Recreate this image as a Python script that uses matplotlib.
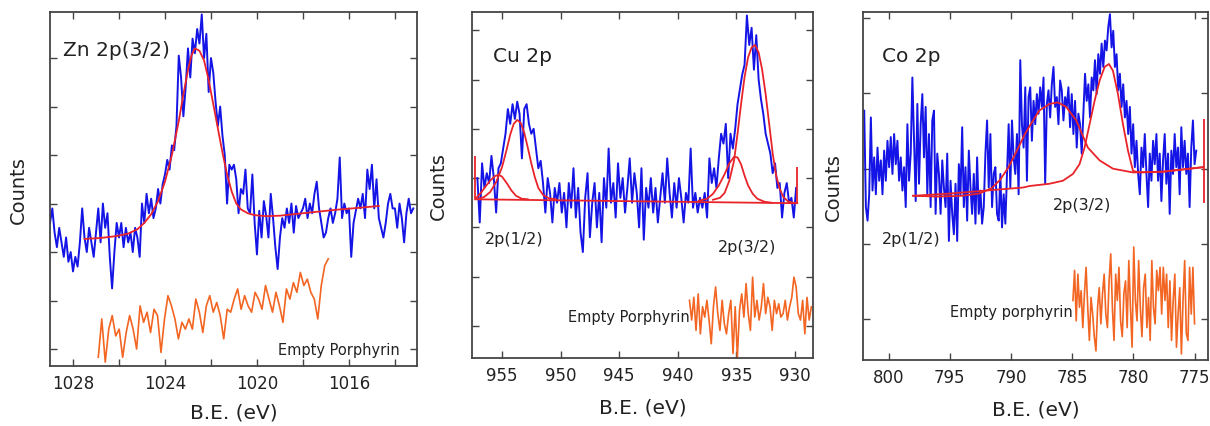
import numpy as np
import matplotlib
matplotlib.use('Agg')
import matplotlib.pyplot as plt
from matplotlib.ticker import MultipleLocator

BLUE = '#1414e6'
RED = '#e8242a'
ORANGE = '#f26522'
EDGE = '#444444'

# ---------------- Zn 2p(3/2) ----------------
zn_range = (1029.0, 1013.2)
zn_counts = [
    2.6, 2.9, 2.4, 2.1, 2.5, 2.2, 1.9, 2.3, 1.8, 2.0,
    1.6, 1.9, 1.7, 2.2, 2.9, 2.3, 2.0, 2.5, 2.2, 1.9,
    2.4, 2.9, 2.2, 3.0, 2.5, 2.8, 1.9, 1.25, 2.0, 2.6,
    2.3, 2.6, 2.1, 2.5, 2.2, 2.4, 2.0, 2.5, 2.3, 1.9,
    3.0, 2.6, 3.2, 2.8, 3.1, 2.7, 2.9, 3.3, 3.0, 3.4,
    3.6, 3.9, 3.7, 4.2, 4.1, 4.6, 6.05, 5.6, 4.8, 5.4,
    6.2, 5.6, 6.4, 6.1, 6.6, 6.3, 6.9, 6.0, 6.5, 5.3,
    6.0, 5.7, 5.1, 4.6, 5.0, 4.4, 4.0, 3.0, 3.8, 3.7,
    3.8, 3.5, 2.8, 3.3, 3.2, 3.7, 2.9, 2.8, 3.6, 2.6,
    1.95, 2.85, 2.3, 3.05, 2.75, 2.3, 3.2, 2.7, 2.1, 1.65,
    2.3, 2.7, 2.5, 2.9, 2.6, 3.0, 2.4, 2.95, 2.7, 2.8,
    2.9, 3.1, 2.7, 3.0, 2.8, 3.2, 3.45, 2.9, 2.6, 2.3,
    2.4, 2.7, 2.9, 2.6, 2.8, 3.1, 3.95, 2.7, 3.0, 2.8,
    2.9, 1.9, 2.6, 2.85, 3.1, 2.9, 3.2, 2.7, 3.7, 3.3,
    3.8, 2.9, 3.5, 2.7, 2.5, 2.3, 2.6, 3.0, 3.2, 2.9,
    2.9, 2.5, 3.0, 2.7, 2.2, 2.8, 3.1, 2.8, 2.9,
]
zn_fit_be = [1027.5, 1026.8, 1026.1, 1025.6, 1025.2, 1024.9, 1024.6, 1024.3,
             1024.0, 1023.7, 1023.4, 1023.2, 1023.0, 1022.85, 1022.7, 1022.5,
             1022.3, 1022.1, 1021.9, 1021.7, 1021.5, 1021.3, 1021.1, 1020.9,
             1020.7, 1020.4, 1020.1, 1019.6, 1019.0, 1018.2, 1017.4, 1016.6,
             1015.6, 1014.7]
zn_fit = [2.27, 2.29, 2.33, 2.38, 2.47, 2.6, 2.78, 3.05,
          3.45, 4.0, 4.7, 5.25, 5.75, 6.05, 6.2, 6.15,
          5.95, 5.55, 5.05, 4.55, 4.05, 3.6, 3.25, 3.0,
          2.88, 2.8, 2.76, 2.74, 2.75, 2.79, 2.83, 2.87,
          2.91, 2.95]
zn_empty_range = (1026.9, 1016.9)
zn_empty = [
    -0.17, 0.62, -0.27, 0.41, 0.69, 0.27, 0.41, -0.17, 0.34, 0.69,
    0.41, 0.0, 0.89, 0.55, 0.76, 0.34, 0.82, 0.69, -0.07, 0.62,
    1.1, 0.89, 0.62, 0.21, 0.55, 0.41, 0.62, 0.41, 1.03, 0.76,
    0.34, 0.89, 1.1, 0.76, 0.96, 0.69, 0.21, 0.82, 0.76, 1.03,
    1.24, 0.82, 1.1, 0.89, 0.76, 1.17, 1.03, 0.82, 1.31, 1.03,
    0.76, 1.17, 0.89, 0.55, 1.24, 1.03, 1.37, 1.17, 1.58, 1.31,
    1.44, 1.17, 1.03, 0.62, 1.31, 1.72, 1.86,
]

# ---------------- Cu 2p ----------------
cu_range = (957.1, 929.9)
cu_counts = [
    3.0, 2.1, 3.3, 2.8, 3.1, 2.9, 3.45, 3.0, 2.3, 3.2,
    3.3, 3.6, 3.9, 4.4, 4.1, 4.5, 4.2, 4.55, 4.3, 3.4,
    4.4, 4.5, 4.1, 3.9, 4.0, 3.6, 3.2, 3.35, 2.9, 2.3,
    3.0, 2.7, 2.1, 2.8, 2.5, 2.9, 2.3, 2.7, 2.0, 2.9,
    2.4, 3.2, 2.2, 2.8, 1.9, 1.5, 2.6, 3.1, 1.8, 2.5,
    2.9, 2.0, 2.7, 1.7, 3.0, 2.4, 3.6, 2.5, 2.9, 2.2,
    3.3, 2.6, 3.0, 2.3, 2.8, 3.4, 2.5, 3.1, 2.7, 2.0,
    3.2, 1.75, 2.8, 2.4, 3.0, 2.3, 2.8, 2.1, 2.6, 3.1,
    2.5, 3.4, 2.7, 2.2, 2.9, 2.4, 3.0, 2.6, 2.1, 2.7,
    2.5, 3.6, 2.4, 2.7, 2.3, 2.6, 2.4, 2.7, 2.2, 3.4,
    2.9, 3.2, 2.8, 3.4, 3.9, 3.7, 4.1, 3.0, 3.9, 3.6,
    4.0, 4.5, 4.8, 5.1, 5.3, 6.3, 5.7, 6.05, 5.2, 5.9,
    5.0, 4.6, 4.3, 3.9, 3.7, 3.5, 3.1, 3.3, 2.8, 2.9,
    2.2, 2.7, 2.9, 2.5, 2.6, 2.2, 2.8,
]
cu_base_be = [957.3, 929.8]
cu_base = [2.57, 2.49]
cu_a_be = [957.2, 956.8, 956.4, 956.0, 955.6, 955.3, 955.0, 954.6, 954.2, 953.8, 953.3, 952.8]
cu_a = [2.6, 2.7, 2.83, 2.95, 3.04, 3.07, 3.03, 2.9, 2.75, 2.64, 2.58, 2.57]
cu_b_be = [957.0, 956.5, 956.0, 955.5, 955.0, 954.6, 954.3, 954.0, 953.7, 953.4,
           953.1, 952.8, 952.5, 952.2, 951.9, 951.5, 951.0, 950.4]
cu_b = [2.58, 2.62, 2.72, 2.92, 3.22, 3.58, 3.88, 4.1, 4.18, 4.12,
        3.92, 3.62, 3.3, 3.02, 2.8, 2.66, 2.59, 2.57]
cu_c_be = [938.2, 937.5, 937.0, 936.5, 936.0, 935.6, 935.2, 934.9, 934.6, 934.3,
           934.0, 933.6, 933.2, 932.6, 932.0]
cu_c = [2.54, 2.58, 2.68, 2.85, 3.08, 3.3, 3.43, 3.42, 3.28, 3.05,
        2.85, 2.68, 2.58, 2.52, 2.5]
cu_d_be = [937.0, 936.4, 936.0, 935.6, 935.2, 934.9, 934.6, 934.3, 934.0, 933.7,
           933.4, 933.1, 932.8, 932.5, 932.2, 931.9, 931.6, 931.3, 931.0, 930.6, 930.0]
cu_d = [2.56, 2.6, 2.7, 2.95, 3.35, 3.9, 4.5, 5.05, 5.45, 5.65,
        5.7, 5.55, 5.2, 4.7, 4.1, 3.5, 3.05, 2.78, 2.62, 2.53, 2.49]
cu_edge_be = [957.3, 929.8]
cu_edge_lo = [2.57, 2.49]
cu_edge_hi = [3.45, 3.22]
cu_empty_range = (939.0, 928.6)
cu_empty = [
    0.52, 0.12, 0.58, -0.09, 0.65, -0.16, 0.39, 0.18, 0.52, 0.12,
    -0.36, 0.39, 0.79, 0.25, -0.09, 0.52, 0.05, -0.16, 0.25, 0.52,
    -0.56, 0.39, -0.63, 0.32, 0.65, 0.18, 0.86, 0.25, -0.09, 0.99,
    0.18, 0.52, 0.12, 0.39, 0.86, 0.25, 0.58, 0.39, -0.09, 0.52,
    0.25, 0.45, 0.18, 0.25, 0.52, 0.12, 0.39, 0.58, 0.99, 0.79,
    0.25, 0.12, 0.52, -0.16, 0.58, 0.12, 0.39,
]

# ---------------- Co 2p ----------------
co_range = (802.0, 774.86)
co_counts = [
    2.77, 1.49, 1.31, 1.66, 2.68, 1.71, 2.15, 1.66, 2.28, 1.84,
    2.11, 1.66, 2.24, 1.84, 2.37, 2.02, 2.42, 1.93, 2.46, 2.06,
    2.37, 1.84, 2.15, 1.71, 2.02, 1.49, 2.59, 1.84, 2.20, 3.21,
    2.37, 1.57, 2.86, 1.80, 2.59, 2.99, 2.15, 2.82, 1.66, 2.46,
    1.49, 2.64, 2.77, 1.40, 2.20, 1.93, 1.40, 2.11, 1.75, 1.49,
    2.20, 1.04, 1.84, 1.40, 1.13, 1.80, 1.04, 2.06, 1.66, 2.55,
    1.49, 2.02, 1.31, 2.24, 1.75, 1.40, 1.93, 1.27, 2.15, 1.40,
    1.71, 1.27, 1.49, 2.20, 2.64, 1.75, 2.46, 1.49, 1.93, 2.02,
    1.40, 1.31, 1.93, 1.22, 1.66, 1.27, 1.93, 2.59, 1.75, 2.64,
    2.15, 1.93, 2.46, 1.66, 3.44, 2.59, 2.28, 3.08, 1.84, 2.95,
    3.08, 2.37, 2.90, 2.59, 2.99, 2.73, 3.08, 2.82, 3.21, 1.80,
    2.86, 3.04, 2.68, 3.12, 3.35, 2.82, 2.95, 2.59, 3.17, 3.04,
    2.64, 2.95, 2.82, 3.08, 2.55, 2.99, 2.46, 2.90, 2.28, 2.73,
    2.59, 2.20, 2.73, 3.26, 2.90, 3.12, 2.68, 3.21, 3.04, 3.44,
    2.99, 3.52, 3.26, 3.66, 3.35, 3.70, 3.57, 3.88, 4.05, 3.61,
    3.83, 3.35, 3.52, 3.04, 3.26, 2.82, 3.12, 2.68, 2.90, 2.46,
    2.82, 2.20, 2.59, 2.02, 2.37, 1.93, 1.66, 2.28, 2.02, 2.46,
    1.93, 1.49, 2.20, 1.84, 2.37, 2.06, 2.46, 1.84, 2.20, 1.57,
    2.11, 2.46, 1.80, 2.20, 1.40, 2.24, 1.93, 2.46, 2.02, 2.28,
    1.66, 2.55, 2.02, 2.37, 1.93, 2.20, 1.49, 2.28, 2.64, 2.06,
    2.24,
]
co_p12_be = [798.0, 796.0, 794.0, 792.6, 791.6, 790.9, 790.2, 789.4, 788.9, 788.5,
             787.7, 786.85, 786.17, 785.49, 784.67, 783.72, 782.76, 781.67, 780.03,
             777.58, 774.3]
co_p12 = [1.64, 1.63, 1.64, 1.67, 1.74, 1.85, 2.02, 2.28, 2.45, 2.56,
          2.77, 2.86, 2.88, 2.82, 2.64, 2.28, 2.11, 2.0, 1.95,
          1.96, 2.02]
co_p32_be = [798.0, 795.0, 792.0, 789.0, 788.48, 786.85, 785.76, 784.94, 784.4, 783.99,
             783.58, 783.17, 782.76, 782.35, 782.0, 781.67, 781.26, 780.85, 780.44,
             780.03, 779.49, 777.58, 774.3]
co_p32 = [1.64, 1.67, 1.71, 1.75, 1.77, 1.80, 1.84, 1.93, 2.06, 2.28,
          2.59, 2.90, 3.17, 3.35, 3.39, 3.30, 2.99, 2.59, 2.24,
          1.97, 1.95, 1.96, 2.02]
co_edge_be = [774.25]
co_edge_lo = [1.54]
co_edge_hi = [2.66]
co_empty_range = (784.94, 775.0)
co_empty = [
    0.25, 0.65, -0.02, 0.60, 0.16, 0.38, -0.11, 0.34, 0.69, 0.16,
    -0.28, 0.29, 0.07, -0.23, -0.42, 0.16, 0.42, -0.06, 0.34, 0.60,
    0.07, -0.11, 0.51, 0.87, 0.16, -0.28, 0.60, 0.25, 0.69, -0.02,
    -0.23, 0.34, 0.51, -0.11, 0.78, 0.16, -0.37, 0.96, 0.25, -0.02,
    0.78, 0.16, -0.23, 0.42, 0.60, -0.11, 0.29, -0.28, 0.78, 0.16,
    -0.06, 0.65, 0.38, 0.69, 0.07, 0.69, 0.25, 0.60, -0.11, 0.51,
    -0.28, 0.25, 0.60, -0.37, 0.07, 0.42, -0.46, 0.25, 0.78, -0.19,
    -0.28, 0.69, 0.07, 0.69, -0.06,
]


def grid(rng, vals):
    return np.linspace(rng[0], rng[1], len(vals))


def style_axes(ax, xlim, ylim, nyt, xlabel_y, ylabel_x):
    ax.set_xlim(*xlim)
    ax.set_ylim(*ylim)
    ax.set_yticks(range(nyt))
    ax.tick_params(direction='in', top=True, right=True, length=5, width=1,
                   color=EDGE, labelsize=12, pad=6, labelleft=False,
                   labelcolor='#222222')
    ax.tick_params(which='minor', direction='in', top=True, right=True,
                   length=5, width=1, color=EDGE)
    for s in ax.spines.values():
        s.set_color(EDGE)
        s.set_linewidth(1.3)
    ax.set_xlabel('B.E. (eV)', fontsize=14.5, color='#222222')
    ax.set_ylabel('Counts', fontsize=14, color='#222222')
    ax.xaxis.set_label_coords(0.5, xlabel_y)
    ax.xaxis.label.set_va('center')
    ax.yaxis.set_label_coords(ylabel_x, 0.5)
    ax.yaxis.label.set_va('center')


fig = plt.figure(figsize=(12.1, 4.27), dpi=100)

# Zn
ax1 = fig.add_axes([50/1210, 60/427, 367/1210, 354/427])
ax1.plot(grid(zn_range, zn_counts), zn_counts, color=BLUE, lw=1.4)
ax1.plot(zn_fit_be, zn_fit, color=RED, lw=1.3)
ax1.plot(grid(zn_empty_range, zn_empty), zn_empty, color=ORANGE, lw=1.2)
style_axes(ax1, (1029.0, 1013.04), (-0.35, 6.95), 7, -0.13, -0.087)
ax1.set_xticks([1028, 1024, 1020, 1016])
ax1.xaxis.set_minor_locator(MultipleLocator(2))
ax1.text(0.035, 0.895, 'Zn 2p(3/2)', transform=ax1.transAxes, fontsize=14.5,
         va='center', ha='left', color='#222222')
ax1.text(0.954, 0.048, 'Empty Porphyrin', transform=ax1.transAxes, fontsize=10.5,
         va='center', ha='right', color='#222222')

# Cu
ax2 = fig.add_axes([472/1210, 68/427, 341/1210, 346/427])
ax2.plot(grid(cu_range, cu_counts), cu_counts, color=BLUE, lw=1.4)
for be, v in [(cu_base_be, cu_base), (cu_a_be, cu_a), (cu_b_be, cu_b),
              (cu_c_be, cu_c), (cu_d_be, cu_d)]:
    ax2.plot(be, v, color=RED, lw=1.3)
ax2.vlines(cu_edge_be, cu_edge_lo, cu_edge_hi, color=RED, lw=1.3)
ax2.plot(grid(cu_empty_range, cu_empty), cu_empty, color=ORANGE, lw=1.2)
style_axes(ax2, (957.56, 928.46), (-0.65, 6.37), 7, -0.142, -0.1)
ax2.set_xticks([955, 950, 945, 940, 935, 930])
ax2.text(0.062, 0.873, 'Cu 2p', transform=ax2.transAxes, fontsize=14.5,
         va='center', ha='left', color='#222222')
ax2.text(0.038, 0.344, '2p(1/2)', transform=ax2.transAxes, fontsize=11.5,
         va='center', ha='left', color='#222222')
ax2.text(0.721, 0.321, '2p(3/2)', transform=ax2.transAxes, fontsize=11.5,
         va='center', ha='left', color='#222222')
ax2.text(0.639, 0.121, 'Empty Porphyrin', transform=ax2.transAxes, fontsize=10.5,
         va='center', ha='right', color='#222222')

# Co
ax3 = fig.add_axes([863/1210, 66/427, 345/1210, 348/427])
ax3.plot(grid(co_range, co_counts), co_counts, color=BLUE, lw=1.4)
ax3.plot(co_p12_be, co_p12, color=RED, lw=1.3)
ax3.plot(co_p32_be, co_p32, color=RED, lw=1.3)
ax3.vlines(co_edge_be, co_edge_lo, co_edge_hi, color=RED, lw=1.3)
ax3.plot(grid(co_empty_range, co_empty), co_empty, color=ORANGE, lw=1.2)
style_axes(ax3, (802.1, 773.9), (-0.54, 4.08), 5, -0.14, -0.087)
ax3.set_xticks([800, 795, 790, 785, 780, 775])
ax3.text(0.055, 0.874, 'Co 2p', transform=ax3.transAxes, fontsize=14.5,
         va='center', ha='left', color='#222222')
ax3.text(0.551, 0.448, '2p(3/2)', transform=ax3.transAxes, fontsize=11.5,
         va='center', ha='left', color='#222222')
ax3.text(0.055, 0.348, '2p(1/2)', transform=ax3.transAxes, fontsize=11.5,
         va='center', ha='left', color='#222222')
ax3.text(0.609, 0.138, 'Empty porphyrin', transform=ax3.transAxes, fontsize=10.5,
         va='center', ha='right', color='#222222')

plt.savefig('out.png', dpi=100)
